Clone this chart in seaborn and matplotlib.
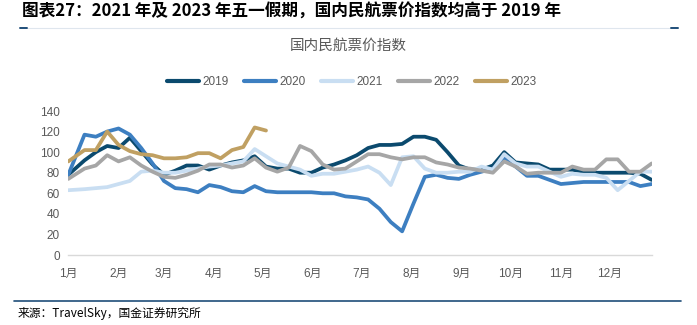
import matplotlib
matplotlib.use('Agg')
import matplotlib.pyplot as plt
import seaborn as sns
import pandas as pd
from matplotlib.lines import Line2D

# ---------------- data ----------------
years = ['2019', '2020', '2021', '2022', '2023']
colors = ['#0b4a6e', '#3d7fc1', '#c9def2', '#a6a6a6', '#c0a062']

# weekly observation dates (first point Jan 1, then weekly)
dates = ['2019-01-01'] + [str(d.date()) for d in pd.date_range('2019-01-11', periods=51, freq='7D')]

v2019 = [78, 92, 100, 106, 104, 114, 101, 88, 78, 82,
         87, 87, 83, 87, 90, 92, 96, 86, 84, 84,
         80, 80, 85, 88, 92, 97, 104, 107, 107, 108,
         115, 115, 112, 100, 87, 83, 83, 87, 100, 90,
         89, 88, 83, 83, 83, 81, 80, 80, 80, 80,
         79, 73]
v2020 = [78, 117, 115, 120, 123, 117, 104, 89, 72, 65,
         64, 61, 68, 66, 62, 61, 67, 62, 61, 61,
         61, 61, 60, 60, 57, 56, 54, 45, 32, 23,
         50, 76, 78, 75, 74, 78, 81, 84, 94, 86,
         77, 77, 73, 69, 70, 71, 71, 71, 71, 71,
         67, 69]
v2021 = [63, 64, 65, 66, 69, 72, 81, 82, 80, 80,
         82, 84, 86, 87, 89, 91, 103, 96, 89, 86,
         83, 77, 79, 79, 81, 83, 86, 80, 68, 95,
         96, 84, 80, 80, 81, 81, 86, 83, 98, 89,
         86, 86, 81, 76, 79, 78, 78, 75, 63, 72,
         81, 81]
v2022 = [74, 84, 87, 97, 91, 95, 87, 81, 76, 75,
         78, 82, 88, 88, 85, 87, 94, 85, 81, 85,
         106, 101, 88, 83, 84, 91, 98, 98, 95, 93,
         95, 95, 90, 88, 85, 84, 82, 80, 91, 86,
         79, 80, 80, 80, 86, 83, 83, 93, 93, 81,
         81, 89]
v2023 = [91, 102, 102, 120, 107, 101, 98, 97, 94, 94,
         95, 99, 99, 94, 102, 105, 124, 121]

month_labels = [f'{m}月' for m in range(1, 13)]
y_ticks = [0, 20, 40, 60, 80, 100, 120, 140]

title_text = '图表27：2021 年及 2023 年五一假期，国内民航票价指数均高于 2019 年'
chart_title = '国内民航票价指数'
source_text = '来源：TravelSky，国金证券研究所'

# ---------------- build table ----------------
series = [v2019, v2020, v2021, v2022, v2023]
start = pd.Timestamp('2019-01-01')
day = [(pd.Timestamp(d) - start).days for d in dates]
rows = []
for yr, vals in zip(years, series):
    for i, v in enumerate(vals):
        rows.append({'day': day[i], 'value': v, 'year': yr})
df = pd.DataFrame(rows)
month_pos = [(d - start).days for d in pd.date_range('2019-01-01', periods=12, freq='MS')]

# ---------------- style ----------------
sns.set_theme(style='white')
plt.rcParams['font.family'] = ['Liberation Sans', 'Noto Sans CJK SC']
grey = '#595959'

W, H = 697, 325
fig = plt.figure(figsize=(W / 100, H / 100), dpi=100)
ax = fig.add_axes([68.3 / W, 1 - 255 / H, (651.7 - 68.3) / W, (255 - 111) / H])

sns.lineplot(data=df, x='day', y='value', hue='year', hue_order=years,
             palette=dict(zip(years, colors)), linewidth=2.7, ax=ax,
             legend=False, sort=False)

ax.set_xlim(0, day[-1])
ax.set_ylim(0, 140)
ax.set_yticks(y_ticks)
ax.set_xticks(month_pos)
ax.set_xticklabels(month_labels)
ax.set_xlabel('')
ax.set_ylabel('')
for s in ['top', 'right', 'left']:
    ax.spines[s].set_visible(False)
ax.spines['bottom'].set_color('#d9d9d9')
ax.spines['bottom'].set_linewidth(1.0)
ax.tick_params(axis='y', length=0, pad=6, labelsize=8.5, labelcolor=grey)
ax.tick_params(axis='x', direction='in', length=3, width=0.8, color='#d9d9d9',
               pad=9, labelsize=8.5, labelcolor=grey)
ax.grid(False)

# legend
handles = [Line2D([0], [0], color=c, lw=3) for c in colors]
fig.legend(handles, years, loc='center', bbox_to_anchor=(352 / W, 1 - 82 / H),
           ncol=5, frameon=False, fontsize=8.5, labelcolor=grey,
           handlelength=2.7, handletextpad=0.3, columnspacing=1.3)

# titles
fig.text(22 / W, 1 - 12 / H, title_text, fontsize=12, fontweight='bold',
         family=['Noto Sans CJK SC'], ha='left', va='center', color='black')
fig.text(348 / W, 1 - 46 / H, chart_title, fontsize=10.5, color=grey,
         family=['Noto Sans CJK SC'], ha='center', va='center')

# header separator
fig.add_artist(Line2D([20 / W, 678 / W], [1 - 28 / H] * 2, color='#dfe6ee', lw=0.8))
fig.add_artist(Line2D([20 / W, 27 / W], [1 - 28 / H] * 2, color='#1f4e79', lw=1.4))
fig.add_artist(Line2D([671 / W, 678 / W], [1 - 28 / H] * 2, color='#1f4e79', lw=1.4))

# footer
fig.add_artist(Line2D([14 / W, 681 / W], [1 - 301 / H] * 2, color='#1f4e79', lw=1.2))
fig.text(18 / W, 1 - 313 / H, source_text, fontsize=8.5, color='black',
         family=['Noto Sans CJK SC'], ha='left', va='center')

fig.savefig('out.png', dpi=100)
